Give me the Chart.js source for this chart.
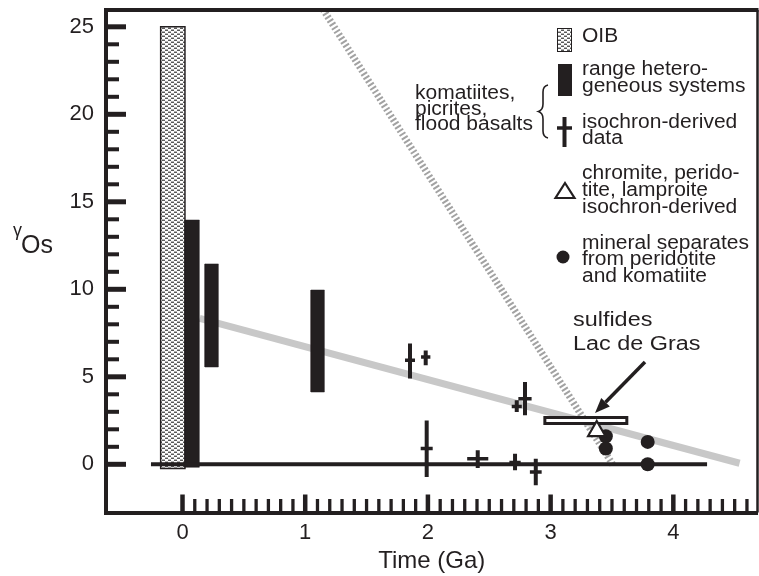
<!DOCTYPE html>
<html>
<head>
<meta charset="utf-8">
<script src="https://cdn.jsdelivr.net/npm/chart.js@4.4.1/dist/chart.umd.min.js"></script>
<style>
  html, body { margin: 0; padding: 0; background: #fff; }
  #wrap { width: 759px; height: 576px; position: relative; }
</style>
</head>
<body>
<div id="wrap"><canvas id="c" width="759" height="576"></canvas></div>
<script>
// ---------------- data ----------------
const xTickLabels = [0, 1, 2, 3, 4];
const yTickLabels = [0, 5, 10, 15, 20, 25];

// OIB field (age span, gamma Os span)
const oibAge = [-0.178, 0.020];
const oibGamma = [-0.24, 25.0];

// komatiites / picrites / flood basalts: range of heterogeneous systems
const rangeAgeFrom = [0.020, 0.183, 1.047];
const rangeAgeTo   = [0.137, 0.292, 1.156];
const rangeLow     = [-0.17, 5.56, 4.13];
const rangeHigh    = [13.96, 11.45, 9.96];

// komatiites / picrites / flood basalts: isochron-derived initial gamma Os
const isoAge      = [1.854, 1.982, 2.724, 2.791, 1.990, 2.406, 2.710, 2.879];
const isoGamma    = [5.94, 6.13, 3.31, 3.75, 0.90, 0.32, 0.10, -0.44];
const isoLow      = [4.90, 5.66, 2.99, 2.80, -0.72, -0.21, -0.34, -1.20];
const isoHigh     = [6.90, 6.51, 3.66, 4.70, 2.51, 0.80, 0.61, 0.32];
const isoAgeError = [0.041, 0.038, 0.041, 0.054, 0.049, 0.086, 0.046, 0.048];

// chromite, peridotite, lamproite isochron
const chromiteAge = [3.376];
const chromiteGamma = [1.90];

// mineral separates from peridotite and komatiite
const mineralAge = [3.450, 3.450, 3.791, 3.791];
const mineralGamma = [1.60, 0.90, 1.28, 0.00];

// sulfides, Lac de Gras
const sulfideAge = [2.953, 3.621];
const sulfideGamma = [2.33, 2.68];

// chondritic reference (gamma Os = 0)
const chondriteAge = [-0.257, 4.275];
const chondriteGamma = [0, 0];

// evolution trends
const trendAge = [0.14, 4.54];
const trendGamma = [8.34, 0.06];
const steepAge = [1.145, 3.51];
const steepGamma = [26.0, -0.05];

// ---------------- styling ----------------
const INK = '#231f20';
const FONT = "'Liberation Sans', Arial, Helvetica, sans-serif";

function makeStipple() {
  const t = document.createElement('canvas');
  t.width = 6; t.height = 4;
  const g = t.getContext('2d');
  g.fillStyle = '#ffffff';
  g.fillRect(0, 0, 6, 4);
  g.fillStyle = '#5a5a5a';
  g.fillRect(0, 0, 3, 1);
  g.fillRect(3, 2, 3, 1);
  g.fillStyle = '#b0b0b0';
  g.fillRect(3, 1, 3, 1);
  g.fillRect(0, 3, 3, 1);
  return document.getElementById('c').getContext('2d').createPattern(t, 'repeat');
}
const stipple = makeStipple();

function box(x0, x1, y0, y1) {
  return [{x: x0, y: y0}, {x: x1, y: y0}, {x: x1, y: y1}, {x: x0, y: y1}, {x: x0, y: y0}];
}
function pairs(xs, ys) { return xs.map((x, i) => ({x: x, y: ys[i]})); }

// error-bar segments separated by gaps
const isoVertical = [];
const isoHorizontal = [];
isoAge.forEach((a, i) => {
  isoVertical.push({x: a, y: isoLow[i]}, {x: a, y: isoHigh[i]}, {x: a, y: null});
  isoHorizontal.push({x: a - isoAgeError[i], y: isoGamma[i]}, {x: a + isoAgeError[i], y: isoGamma[i]}, {x: a, y: null});
});

const lineBase = { type: 'line', pointRadius: 0, tension: 0, fill: false, spanGaps: false };

const datasets = [
  Object.assign({}, lineBase, {
    label: 'chromite', data: pairs(chromiteAge, chromiteGamma), showLine: false,
    pointRadius: 10, pointStyle: 'triangle', pointBackgroundColor: '#ffffff',
    pointBorderColor: INK, pointBorderWidth: 2.2
  }),
  Object.assign({}, lineBase, {
    label: 'mineral separates', data: pairs(mineralAge, mineralGamma), showLine: false,
    pointRadius: 7, pointStyle: 'circle', pointBackgroundColor: INK, pointBorderWidth: 0
  }),
  Object.assign({}, lineBase, {
    label: 'sulfides', data: box(sulfideAge[0], sulfideAge[1], sulfideGamma[0], sulfideGamma[1]),
    fill: 'shape', backgroundColor: '#ffffff', borderColor: INK, borderWidth: 3,
    borderCapStyle: 'square', borderJoinStyle: 'miter'
  }),
  Object.assign({}, lineBase, {
    label: 'isochron', data: isoVertical, borderColor: INK, borderWidth: 4
  }),
  Object.assign({}, lineBase, {
    label: 'isochron age', data: isoHorizontal, borderColor: INK, borderWidth: 3.5
  }),
  Object.assign({}, lineBase, {
    label: 'chondrite', data: pairs(chondriteAge, chondriteGamma), borderColor: INK, borderWidth: 4
  }),
  ...rangeAgeFrom.map((a, i) => Object.assign({}, lineBase, {
    label: 'range ' + i, data: box(a, rangeAgeTo[i], rangeLow[i], rangeHigh[i]),
    fill: 'shape', backgroundColor: INK, borderColor: INK, borderWidth: 0.5
  })),
  Object.assign({}, lineBase, {
    label: 'OIB', data: box(oibAge[0], oibAge[1], oibGamma[0], oibGamma[1]),
    fill: 'shape', backgroundColor: stipple, borderColor: INK, borderWidth: 1.5,
    borderCapStyle: 'square', borderJoinStyle: 'miter'
  }),
  Object.assign({}, lineBase, {
    label: 'trend', data: pairs(trendAge, trendGamma), borderColor: '#c8c8c8', borderWidth: 7
  }),
  Object.assign({}, lineBase, {
    label: 'steep trend', data: pairs(steepAge, steepGamma), borderColor: '#a2a2a2',
    borderWidth: 7, borderDash: [2, 2.2], borderCapStyle: 'butt'
  })
];

// ---------------- overlay drawing ----------------
function txt(ctx, s, x, y, size, sx) {
  ctx.save();
  ctx.font = size + 'px ' + FONT;
  ctx.textAlign = 'left';
  ctx.textBaseline = 'alphabetic';
  ctx.fillStyle = INK;
  ctx.translate(x, y);
  ctx.scale(sx, 1);
  ctx.fillText(s, 0, 0);
  ctx.restore();
}

const overlay = {
  id: 'overlay',
  afterDatasetsDraw(chart) {
    const ctx = chart.ctx;
    const area = chart.chartArea;
    const xs = chart.scales.x, ys = chart.scales.y;
    ctx.save();
    ctx.strokeStyle = INK;
    ctx.fillStyle = INK;
    ctx.lineCap = 'butt';

    // gamma-axis tick marks (inside)
    for (let v = 0; v <= 25; v++) {
      const major = v % 5 === 0;
      const py = ys.getPixelForValue(v);
      ctx.lineWidth = major ? 5 : 4;
      ctx.beginPath();
      ctx.moveTo(area.left, py);
      ctx.lineTo(area.left + (major ? 20 : 13), py);
      ctx.stroke();
    }
    // time-axis tick marks (inside)
    for (let i = 0; i <= 46; i++) {
      const major = i % 10 === 0;
      const px = xs.getPixelForValue(i / 10);
      ctx.lineWidth = major ? 4.5 : 3.3;
      ctx.beginPath();
      ctx.moveTo(px, area.bottom);
      ctx.lineTo(px, area.bottom - (major ? 18 : 13.5));
      ctx.stroke();
    }
    // top and right frame
    ctx.lineWidth = 4;
    ctx.beginPath();
    ctx.moveTo(area.left - 2, area.top);
    ctx.lineTo(area.right + 1, area.top);
    ctx.stroke();
    ctx.lineWidth = 2.5;
    ctx.beginPath();
    ctx.moveTo(area.right, area.top);
    ctx.lineTo(area.right, area.bottom);
    ctx.stroke();

    // arrow to the sulfide box
    const ax0 = xs.getPixelForValue(3.769), ay0 = ys.getPixelForValue(5.85);
    const ax1 = xs.getPixelForValue(3.362), ay1 = ys.getPixelForValue(2.93);
    const ang = Math.atan2(ay1 - ay0, ax1 - ax0);
    const headLen = 15, headHalf = 6;
    const bx = ax1 - headLen * Math.cos(ang), by = ay1 - headLen * Math.sin(ang);
    ctx.lineWidth = 3.5;
    ctx.beginPath();
    ctx.moveTo(ax0, ay0);
    ctx.lineTo(bx, by);
    ctx.stroke();
    ctx.beginPath();
    ctx.moveTo(ax1, ay1);
    ctx.lineTo(bx + headHalf * Math.sin(ang), by - headHalf * Math.cos(ang));
    ctx.lineTo(bx - headHalf * Math.sin(ang), by + headHalf * Math.cos(ang));
    ctx.closePath();
    ctx.fill();

    txt(ctx, 'sulfides', 573, 326, 20, 1.17);
    txt(ctx, 'Lac de Gras', 573, 350, 20, 1.17);

    // gamma-axis title
    txt(ctx, 'γ', 13, 236, 18, 1.0);
    txt(ctx, 'Os', 21, 253, 25, 1.0);

    // legend
    ctx.fillStyle = stipple;
    ctx.fillRect(557, 28, 15, 24);
    ctx.lineWidth = 1;
    ctx.strokeStyle = INK;
    ctx.strokeRect(557.5, 28.5, 14, 23);
    ctx.fillStyle = INK;
    ctx.fillRect(558, 64, 14, 32);
    ctx.lineWidth = 4;
    ctx.beginPath(); ctx.moveTo(564.5, 117); ctx.lineTo(564.5, 147); ctx.stroke();
    ctx.lineWidth = 3.5;
    ctx.beginPath(); ctx.moveTo(557, 128); ctx.lineTo(572, 128); ctx.stroke();
    // open triangle
    ctx.lineWidth = 2.2;
    ctx.beginPath();
    ctx.moveTo(565, 183);
    ctx.lineTo(574.5, 198);
    ctx.lineTo(555.5, 198);
    ctx.closePath();
    ctx.fillStyle = '#fff';
    ctx.fill();
    ctx.stroke();
    ctx.fillStyle = INK;
    ctx.beginPath(); ctx.arc(563, 257, 6.5, 0, Math.PI * 2); ctx.fill();

    const LX = 582, LS = 20, LSX = 1.05;
    txt(ctx, 'OIB', LX, 42, LS, LSX);
    txt(ctx, 'range hetero-', LX, 75, LS, LSX);
    txt(ctx, 'geneous systems', LX, 92, LS, LSX);
    txt(ctx, 'isochron-derived', LX, 128, LS, LSX);
    txt(ctx, 'data', LX, 144, LS, LSX);
    txt(ctx, 'chromite, perido-', LX, 179, LS, LSX);
    txt(ctx, 'tite, lamproite', LX, 196, LS, LSX);
    txt(ctx, 'isochron-derived', LX, 213, LS, LSX);
    txt(ctx, 'mineral separates', LX, 249, LS, LSX);
    txt(ctx, 'from peridotite', LX, 265, LS, LSX);
    txt(ctx, 'and komatiite', LX, 282, LS, LSX);

    txt(ctx, 'komatiites,', 415, 99, LS, LSX);
    txt(ctx, 'picrites,', 415, 114.5, LS, LSX);
    txt(ctx, 'flood basalts', 415, 130, LS, LSX);

    // brace grouping the two komatiite entries
    ctx.lineWidth = 1.6;
    ctx.beginPath();
    ctx.moveTo(548, 85);
    ctx.quadraticCurveTo(543, 86, 543, 92);
    ctx.lineTo(543, 104);
    ctx.quadraticCurveTo(543, 110, 538.5, 111.5);
    ctx.quadraticCurveTo(543, 113, 543, 119);
    ctx.lineTo(543, 131);
    ctx.quadraticCurveTo(543, 137, 548, 138);
    ctx.stroke();

    ctx.restore();
  }
};

new Chart(document.getElementById('c'), {
  type: 'line',
  data: { datasets: datasets },
  options: {
    responsive: false,
    animation: false,
    devicePixelRatio: 1,
    layout: { autoPadding: false, padding: { top: 10, right: 1.5, left: 0, bottom: 0 } },
    plugins: { legend: { display: false }, tooltip: { enabled: false } },
    scales: {
      x: {
        type: 'linear', position: 'bottom', min: -0.6235, max: 4.686,
        afterFit(s) { s.height = 63.5; s.paddingLeft = 0; s.paddingRight = 0; },
        afterBuildTicks(s) { s.ticks = xTickLabels.map(v => ({ value: v })); },
        grid: { display: true, drawOnChartArea: false, drawTicks: false, lineWidth: 0 },
        border: { display: true, width: 4, color: INK },
        ticks: { padding: 7, color: INK, font: { family: FONT, size: 22 }, maxRotation: 0, autoSkip: false },
        title: { display: true, text: 'Time (Ga)', color: INK, font: { family: FONT, size: 24 }, padding: { top: 0, bottom: 0 } }
      },
      y: {
        type: 'linear', position: 'left', min: -2.754, max: 25.96,
        afterFit(s) { s.width = 106; s.paddingTop = 0; s.paddingBottom = 0; },
        afterBuildTicks(s) { s.ticks = yTickLabels.map(v => ({ value: v })); },
        grid: { display: true, drawOnChartArea: false, drawTicks: false, lineWidth: 0 },
        border: { display: true, width: 4, color: INK },
        ticks: { padding: 12, color: INK, font: { family: FONT, size: 22 }, autoSkip: false }
      }
    }
  },
  plugins: [overlay]
});
</script>
</body>
</html>
